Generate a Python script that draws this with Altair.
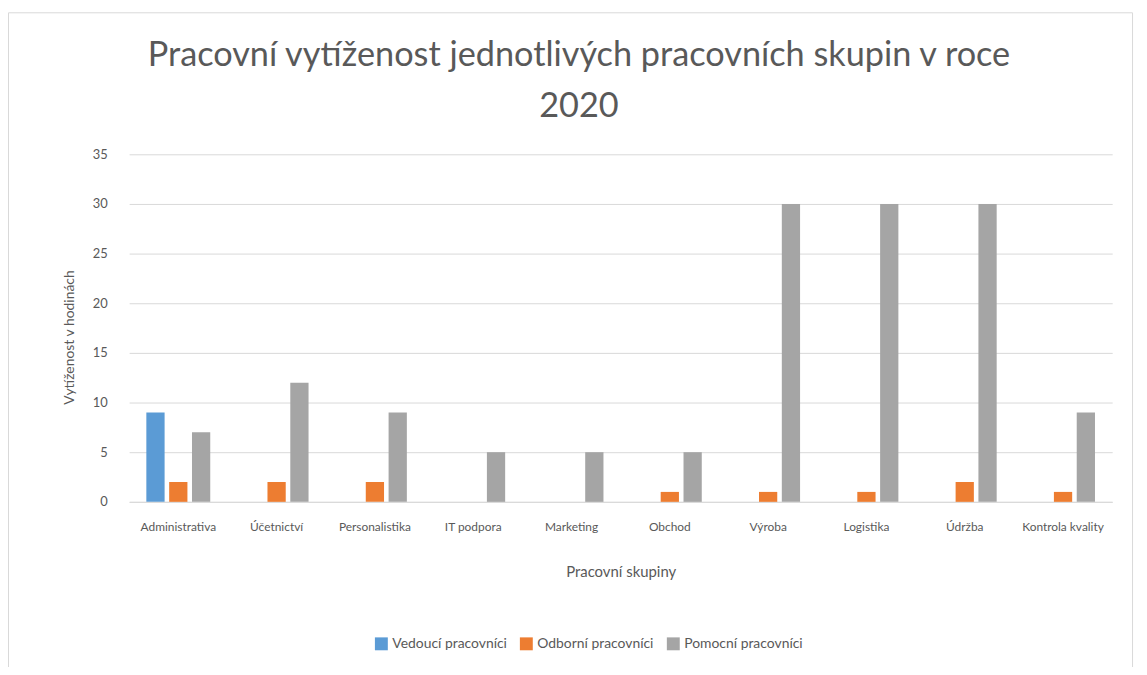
import altair as alt
import pandas as pd

categories = ["Administrativa", "Účetnictví", "Personalistika", "IT podpora", "Marketing",
              "Obchod", "Výroba", "Logistika", "Údržba", "Kontrola kvality"]
series = ["Vedoucí pracovníci", "Odborní pracovníci", "Pomocní pracovníci"]
vals_vedouci = [9, None, None, None, None, None, None, None, None, None]
vals_odborni = [2, 2, 2, None, None, 1, 1, 1, 2, 1]
vals_pomocni = [7, 12, 9, 5, 5, 5, 30, 30, 30, 9]
colors = ["#5B9BD5", "#ED7D31", "#A5A5A5"]

rows = []
for s, vals in zip(series, [vals_vedouci, vals_odborni, vals_pomocni]):
    for c, v in zip(categories, vals):
        if v is not None:
            rows.append({"skupina": c, "serie": s, "hodnota": v})
df = pd.DataFrame(rows)

FONT = "Lato"
GRAY_TXT = "#595959"

bars = alt.Chart(df).mark_bar().encode(
    x=alt.X("skupina:N", sort=categories,
            scale=alt.Scale(paddingInner=0.35, paddingOuter=0.175),
            axis=alt.Axis(title="Pracovní skupiny", labelAngle=0, labelLimit=98,
                          labelFontSize=12, labelColor=GRAY_TXT, labelPadding=20,
                          ticks=False, domainColor="#D9D9D9", titleFontSize=15,
                          titleColor=GRAY_TXT, titleFontWeight="normal", titlePadding=32,
                          labelFont=FONT, titleFont=FONT)),
    xOffset=alt.XOffset("serie:N", sort=series,
                        scale=alt.Scale(paddingInner=0.2, paddingOuter=0)),
    y=alt.Y("hodnota:Q", scale=alt.Scale(domain=[0, 35]),
            axis=alt.Axis(title="Vytíženost v hodinách", values=[0, 5, 10, 15, 20, 25, 30, 35],
                          domain=False, ticks=False, gridColor="#D9D9D9",
                          labelFontSize=13, labelColor=GRAY_TXT, labelPadding=22,
                          titleFontSize=14, titleColor=GRAY_TXT, titleFontWeight="normal",
                          titleX=-60, titleY=184, titleAlign="center", titleBaseline="middle",
                          labelFont=FONT, titleFont=FONT)),
    color=alt.Color("serie:N", sort=series,
                    scale=alt.Scale(domain=series, range=colors),
                    legend=alt.Legend(title=None, orient="none", direction="horizontal",
                                      legendX=247, legendY=486, symbolType="square",
                                      symbolSize=169, symbolStrokeWidth=0,
                                      labelFontSize=14, labelColor=GRAY_TXT, labelFont=FONT,
                                      columnPadding=12)),
)

border = alt.Chart(alt.Data(values=[{}])).mark_rect(
    fill=None, stroke="#D9D9D9", strokeWidth=1
).encode(x=alt.value(-121.5), x2=alt.value(1010.5), y=alt.value(-142.5), y2=alt.value(540))

chart = alt.layer(border, bars).properties(
    width=990, height=350,
    autosize=alt.AutoSizeParams(type="none"),
    padding={"left": 122, "top": 145, "right": 27, "bottom": 164},
    title=alt.TitleParams(
        text=["Pracovní vytíženost jednotlivých pracovních skupin v roce", "2020"],
        fontSize=34.5, font=FONT, color=GRAY_TXT, fontWeight="normal",
        lineHeight=51, anchor="middle", dx=-42, offset=38, dy=151),
).configure_view(stroke=None)

chart.save("out.html", embed_options={"renderer": "svg", "actions": False})
